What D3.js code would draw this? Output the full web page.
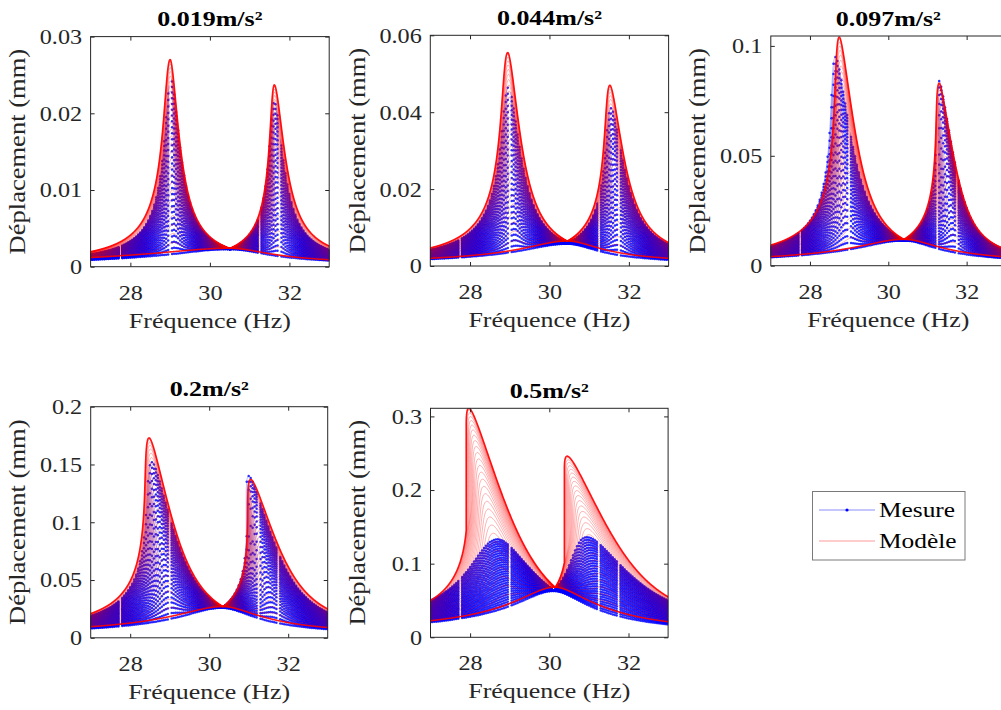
<!DOCTYPE html>
<html>
<head>
<meta charset="utf-8">
<style>
  body { margin: 0; background: #fff; }
  svg { display: block; }
  text { font-family: "Liberation Serif", "Times New Roman", serif; }
</style>
</head>
<body>
<script src="https://cdn.jsdelivr.net/npm/d3@7"></script>
<script>
// ---- data ----
var titles = ["0.019m/s\u00b2", "0.044m/s\u00b2", "0.097m/s\u00b2", "0.2m/s\u00b2", "0.5m/s\u00b2"];
var yMax = [0.03, 0.06, 0.1045, 0.2, 0.311];
var yTicks = [[0, 0.01, 0.02, 0.03], [0, 0.02, 0.04, 0.06], [0, 0.05, 0.1], [0, 0.05, 0.1, 0.15, 0.2], [0, 0.1, 0.2, 0.3]];
var yTickLabels = [["0", "0.01", "0.02", "0.03"], ["0", "0.02", "0.04", "0.06"], ["0", "0.05", "0.1"],
                   ["0", "0.05", "0.1", "0.15", "0.2"], ["0", "0.1", "0.2", "0.3"]];
var xTicks = [28, 30, 32];
var xTickLabels = ["28", "30", "32"];

// softening of the two modes (peak frequency drift, Hz per mm)
var shift1 = 3.55, shift2 = 5.28;

// Modele (red): outer curve
var modelPeakFreq1 = [29.0, 28.95, 28.75, 28.48, 27.97];
var modelPeak1     = [0.027, 0.0555, 0.104, 0.173, 0.311];
var modelPeakFreq2 = [31.62, 31.52, 31.3, 31.05, 30.45];
var modelPeak2     = [0.0237, 0.047, 0.083, 0.137, 0.246];
var modelTop27     = [0.00196, 0.0047, 0.0094, 0.021, 0.05];
var modelTop33     = [0.0027, 0.0061, 0.0075, 0.025, 0.055];
// point where all the curves meet
var modelCrossFreq = [30.5, 30.45, 30.4, 30.35, 30.15];
var modelCross     = [0.0024, 0.0065, 0.012, 0.027, 0.068];
// lowest curve at both ends
var modelLow27     = [0.0012, 0.002, 0.0041, 0.0095, 0.022];
var modelLow33     = [0.0009, 0.002, 0.004, 0.009, 0.022];

// Mesure (blue)
var measPeakFreq1 = [29.02, 28.97, 28.65, 28.55, 28.7];
var measPeak1     = [0.0245, 0.0465, 0.095, 0.152, 0.133];
var measPeakFreq2 = [31.62, 31.55, 31.3, 31.0, 30.95];
var measPeak2     = [0.0215, 0.041, 0.084, 0.14, 0.136];
var measTop27     = [0.0016, 0.0042, 0.0088, 0.019, 0.05];
var measTop33     = [0.0022, 0.0056, 0.0072, 0.022, 0.05];
var measCrossFreq = [30.5, 30.45, 30.4, 30.33, 30.12];
var measCross     = [0.0023, 0.0058, 0.0115, 0.026, 0.063];
var measLow27     = [0.0009, 0.0018, 0.0038, 0.008, 0.02];
var measLow33     = [0.0008, 0.0016, 0.0034, 0.0075, 0.018];
var measGaps      = [27.75, 29.0, 31.25, 31.75];

var nModel = 30, nMeas = 30;
var legendLabels = ["Mesure", "Mod\u00e8le"];

// ---- layout ----
var width = 1001, height = 710;
var sx = 1.18;   // glyphs in the figure are wider than Times
var boxes = [
    [90.6, 36.6, 238.6, 230.1],
    [430.3, 35.3, 238.3, 230.7],
    [770.8, 36.0, 235.0, 229.7],
    [90.7, 406.7, 237.0, 231.1],
    [430.5, 408.3, 237.6, 229.0]
];
var axisColor = "#262626";

var svg = d3.select("body").append("svg")
    .attr("width", width)
    .attr("height", height);

var fGrid = d3.range(26.4, 34.2, 0.006);
var Q = 1.15;

function peak(p, fp, wl, wr, q) {
    return function(f) {
        var u = (f - fp) / (f < fp ? wl : wr);
        return p * Math.pow(1 + u * u, -q / 2);
    };
}

function widthFrom(p, fp, fa, ya, q) {
    return Math.abs(fa - fp) / Math.sqrt(Math.pow(p / ya, 2 / q) - 1);
}

// outer curve = two softening resonances, inner curve = broad hump, both meeting at the crossing
function family(pf1, pk1, pf2, pk2, top27, top33, cf, cy, low27, low33) {
    var f1 = pf1 + shift1 * pk1;
    var f2 = pf2 + shift2 * pk2;
    var fc = cf + 0.5 * (shift1 + shift2) * cy;
    var L1 = peak(pk1, f1,
        widthFrom(pk1, f1, 27 + shift1 * top27, top27, Q),
        widthFrom(pk1, f1, fc, cy, Q), Q);
    var L2 = peak(pk2, f2,
        widthFrom(pk2, f2, fc, cy, Q),
        widthFrom(pk2, f2, 33 + shift2 * top33, top33, Q), Q);
    var B = peak(cy, fc, widthFrom(cy, fc, 27, low27, 1), widthFrom(cy, fc, 33, low33, 1), 1);
    return {
        T: function(f) { return Math.max(L1(f), L2(f)); },
        B: B,
        s: function(f) { return shift1 + (shift2 - shift1) / (1 + Math.exp(-(f - fc) / 0.25)); }
    };
}

// downward sweep: the curve cannot go back in frequency, so it jumps
function buildCurves(fam, levels) {
    return levels.map(function(t) {
        var pts = [];
        var prevX = Infinity;
        for (var k = fGrid.length - 1; k >= 0; k--) {
            var f = fGrid[k];
            var b = fam.B(f);
            var y = b + t * Math.max(0, fam.T(f) - b);
            var x = f - fam.s(f) * y;
            if (x > prevX) x = prevX;
            prevX = x;
            pts.push([x, y]);
        }
        return pts.reverse();
    });
}

// model curves crowd a little towards the outer one
var modelLevels = d3.range(nModel).map(function(k) { return 1 - Math.pow(1 - k / (nModel - 1), 1.4); });
var measLevels = d3.range(nMeas).map(function(k) { return k / (nMeas - 1); });

var bis = d3.bisector(function(d) { return d[0]; }).left;
var dotGrid = d3.range(27, 33.001, 0.05);

function nearGap(x, tol) {
    return measGaps.some(function(g) { return Math.abs(x - g) < tol; });
}

function addText(g, x, y, str, size, rot) {
    return g.append("text")
        .attr("transform", "translate(" + x + "," + y + ")" + (rot ? " rotate(" + rot + ")" : "") + " scale(" + sx + ",1)")
        .attr("font-size", size)
        .attr("text-anchor", "middle")
        .attr("fill", axisColor)
        .text(str);
}

titles.forEach(function(title, i) {
    var bx = boxes[i];
    var x = d3.scaleLinear().domain([27, 33]).range([bx[0], bx[0] + bx[2]]);
    var y = d3.scaleLinear().domain([0, yMax[i]]).range([bx[1] + bx[3], bx[1]]);

    var g = svg.append("g");

    g.append("clipPath").attr("id", "clip" + i)
        .append("rect")
        .attr("x", bx[0]).attr("y", bx[1])
        .attr("width", bx[2]).attr("height", bx[3]);

    var plot = g.append("g").attr("clip-path", "url(#clip" + i + ")");

    var mf = family(modelPeakFreq1[i], modelPeak1[i], modelPeakFreq2[i], modelPeak2[i],
        modelTop27[i], modelTop33[i], modelCrossFreq[i], modelCross[i], modelLow27[i], modelLow33[i]);
    var bf = family(measPeakFreq1[i], measPeak1[i], measPeakFreq2[i], measPeak2[i],
        measTop27[i], measTop33[i], measCrossFreq[i], measCross[i], measLow27[i], measLow33[i]);
    var red = buildCurves(mf, modelLevels);
    var blue = buildCurves(bf, measLevels);

    var lineBlue = d3.line()
        .defined(function(d) { return !nearGap(d[0], 0.022); })
        .x(function(d) { return x(d[0]); })
        .y(function(d) { return y(d[1]); });
    var line = d3.line()
        .x(function(d) { return x(d[0]); })
        .y(function(d) { return y(d[1]); });

    plot.append("g").selectAll("path")
        .data(blue)
        .enter().append("path")
        .attr("d", lineBlue)
        .attr("fill", "none")
        .attr("stroke", "#0000ff")
        .attr("stroke-opacity", 0.35)
        .attr("stroke-width", 0.8);

    // measured points
    var dots = [];
    blue.forEach(function(pts) {
        dotGrid.forEach(function(xg) {
            if (nearGap(xg, 0.01)) return;
            var j = bis(pts, xg);
            if (j <= 0 || j >= pts.length) return;
            var a = pts[j - 1], b = pts[j];
            var r = b[0] > a[0] ? (xg - a[0]) / (b[0] - a[0]) : 1;
            dots.push([xg, a[1] + r * (b[1] - a[1])]);
        });
    });
    plot.append("g").selectAll("circle")
        .data(dots)
        .enter().append("circle")
        .attr("cx", function(d) { return x(d[0]); })
        .attr("cy", function(d) { return y(d[1]); })
        .attr("r", 1.25)
        .attr("fill", "#0000ff")
        .attr("fill-opacity", 0.8);

    plot.append("g").selectAll("path")
        .data(red)
        .enter().append("path")
        .attr("d", line)
        .attr("fill", "none")
        .attr("stroke", "#ff0000")
        .attr("stroke-opacity", function(d, k) { return (k === 0 || k === red.length - 1) ? 0.9 : 0.42; })
        .attr("stroke-width", function(d, k) { return (k === 0 || k === red.length - 1) ? 1.6 : 0.75; });

    // axes, ticks pointing inwards on all four sides
    var fontFam = '"Liberation Serif", "Times New Roman", serif';
    g.append("g")
        .attr("transform", "translate(0," + (bx[1] + bx[3]) + ")")
        .style("color", axisColor)
        .call(d3.axisBottom(x).tickValues(xTicks).tickSize(-4).tickSizeOuter(0)
            .tickFormat(function(d, j) { return xTickLabels[j]; }))
        .call(function(a) {
            a.attr("font-family", fontFam).attr("font-size", 20.5);
            a.select(".domain").remove();
            a.selectAll("text").attr("y", null).attr("dy", null)
                .attr("transform", "translate(0,33) scale(" + sx + ",1)");
        });
    g.append("g")
        .attr("transform", "translate(0," + bx[1] + ")")
        .style("color", axisColor)
        .call(d3.axisTop(x).tickValues(xTicks).tickSize(-4).tickSizeOuter(0).tickFormat(""))
        .call(function(a) { a.select(".domain").remove(); });
    g.append("g")
        .attr("transform", "translate(" + bx[0] + ",0)")
        .style("color", axisColor)
        .call(d3.axisLeft(y).tickValues(yTicks[i]).tickSize(-4).tickSizeOuter(0)
            .tickFormat(function(d, j) { return yTickLabels[i][j]; }))
        .call(function(a) {
            a.attr("font-family", fontFam).attr("font-size", 20.5);
            a.select(".domain").remove();
            a.selectAll("text").attr("x", null).attr("dy", null)
                .attr("transform", "translate(-8.5,6.9) scale(" + sx + ",1)");
        });
    g.append("g")
        .attr("transform", "translate(" + (bx[0] + bx[2]) + ",0)")
        .style("color", axisColor)
        .call(d3.axisRight(y).tickValues(yTicks[i]).tickSize(-4).tickSizeOuter(0).tickFormat(""))
        .call(function(a) { a.select(".domain").remove(); });

    g.append("rect")
        .attr("x", bx[0]).attr("y", bx[1])
        .attr("width", bx[2]).attr("height", bx[3])
        .attr("fill", "none")
        .attr("stroke", axisColor)
        .attr("stroke-width", 1);

    addText(g, bx[0] + bx[2] / 2, bx[1] - 10.5, title, 22)
        .attr("font-weight", "bold")
        .attr("fill", "#000");
    addText(g, bx[0] + bx[2] / 2, bx[1] + bx[3] + 61, "Fr\u00e9quence (Hz)", 22);
    addText(g, bx[0] - 65.5, bx[1] + bx[3] / 2, "D\u00e9placement (mm)", 22.5, -90);
});

// legend
var leg = svg.append("g");
leg.append("rect")
    .attr("x", 812.5).attr("y", 491.5)
    .attr("width", 152.5).attr("height", 68.5)
    .attr("fill", "#fff")
    .attr("stroke", "#7a7a7a")
    .attr("stroke-width", 1);
var legColors = ["#0000ff", "#ff0000"];
legendLabels.forEach(function(lbl, j) {
    var ly = 510 + j * 31;
    leg.append("line")
        .attr("x1", 819).attr("x2", 875)
        .attr("y1", ly).attr("y2", ly)
        .attr("stroke", legColors[j])
        .attr("stroke-opacity", j === 0 ? 0.45 : 0.4)
        .attr("stroke-width", 1);
    if (j === 0) {
        leg.append("circle").attr("cx", 847).attr("cy", ly).attr("r", 1.6).attr("fill", "#0000ff");
    }
    leg.append("text")
        .attr("transform", "translate(879," + (ly + 7) + ") scale(" + sx + ",1)")
        .attr("font-size", 21.5)
        .attr("fill", "#000")
        .text(lbl);
});
</script>
</body>
</html>
